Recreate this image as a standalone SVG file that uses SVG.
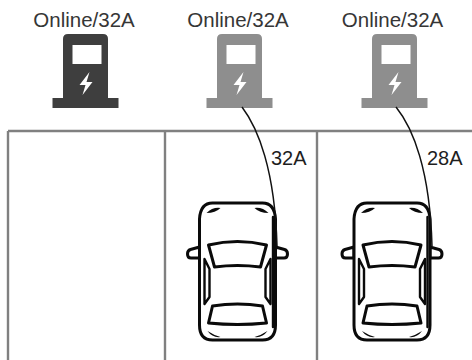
<svg xmlns="http://www.w3.org/2000/svg" xmlns:xlink="http://www.w3.org/1999/xlink" width="472" height="360" viewBox="0 0 472 360">
  <style>
    .title { font-family: "Liberation Sans", Arial, sans-serif; font-size: 20.5px; fill: #363636; text-anchor: middle; }
    .amp { font-family: "Liberation Sans", Arial, sans-serif; font-size: 20px; fill: #1e1e1e; }
    .bay { stroke: #808080; stroke-width: 2.4; fill: none; }
    .cable { stroke: #111; stroke-width: 1.5; fill: none; }
    .car-line { stroke: #0a0a0a; stroke-width: 3; fill: #fff; stroke-linejoin: round; stroke-linecap: round; }
    .car-thin { stroke: #0a0a0a; stroke-width: 2.4; fill: none; stroke-linecap: round; stroke-linejoin: round; }
    .online { fill: #3e3e3e; }
    .idle { fill: #8e8e8e; }
  </style>
  <defs>
    <!-- charging post, centred on x=0, top at y=0 -->
    <g id="charger">
      <path d="M -22.5,64 L -22.5,5 Q -22.5,0 -17.5,0 L 17.5,0 Q 22.5,0 22.5,5 L 22.5,64 Z"/>
      <rect x="-33" y="64" width="66" height="10"/>
      <rect x="-13" y="11" width="29" height="19" fill="#fff"/>
      <path d="M 4,38 L -6,51 L 0,51 L -3,61 L 7,48 L 1,48 Z" fill="#fff"/>
    </g>
    <!-- car seen from above, nose up, centred on x=0, top at y=0 -->
    <g id="car">
      <path class="car-line" d="M -38,44 L -47,46.5 Q -50,47.5 -50,51 Q -50,55 -46.5,55 L -38,55 Z"/>
      <path class="car-line" d="M 38,44 L 47,46.5 Q 50,47.5 50,51 Q 50,55 46.5,55 L 38,55 Z"/>
      <path class="car-line" d="M -25,0 L 25,0 Q 37,0 38,16 L 38,122 Q 38,137 25,137 L -25,137 Q -38,137 -38,122 L -38,16 Q -37,0 -25,0 Z"/>
      <path class="car-thin" d="M 35.5,14 L 35.5,124" stroke-width="1.8"/>
      <path class="car-line" d="M -29,42 Q 0,35 29,42 L 23,64 Q 0,61 -23,64 Z"/>
      <path class="car-line" d="M -25,103 Q 0,99 25,103 L 29,120 Q 0,123 -29,120 Z"/>
      <path class="car-thin" d="M -33,56 L -28,66 L -28,94 L -33,101 Z"/>
      <path class="car-thin" d="M 33,56 L 28,66 L 28,94 L 33,101 Z"/>
      <path d="M -31,10 Q -25,4 -17,5 Q -22,10 -31,10 Z" fill="#0a0a0a"/>
      <path d="M 31,10 Q 25,4 17,5 Q 22,10 31,10 Z" fill="#0a0a0a"/>
      <path d="M -30,128 Q -24,132 -17,134 Q -25,135 -30,128 Z" fill="#0a0a0a"/>
      <path d="M 30,128 Q 24,132 17,134 Q 25,135 30,128 Z" fill="#0a0a0a"/>
    </g>
  </defs>

  <rect width="472" height="360" fill="#fff"/>

  <!-- parking bays -->
  <g id="bays">
    <path class="bay" d="M 8,131 L 472,131 M 8,131 L 8,360 M 165,131 L 165,360 M 317,131 L 317,360"/>
  </g>

  <!-- charging posts -->
  <g id="charger-1">
    <text class="title" x="84" y="27">Online/32A</text>
    <use xlink:href="#charger" class="online" transform="translate(85.5,34)"/>
  </g>
  <g id="charger-2">
    <text class="title" x="238" y="27">Online/32A</text>
    <use xlink:href="#charger" class="idle" transform="translate(239.5,34)"/>
  </g>
  <g id="charger-3">
    <text class="title" x="392.5" y="27">Online/32A</text>
    <use xlink:href="#charger" class="idle" transform="translate(394.5,34)"/>
  </g>

  <!-- cars -->
  <g id="car-1">
    <use xlink:href="#car" transform="translate(237.5,203)"/>
  </g>
  <g id="car-2">
    <use xlink:href="#car" transform="translate(392,203)"/>
  </g>

  <!-- charging cables -->
  <g id="connectors">
    <path class="cable" d="M 242,107 C 258,128 275,170 277,246"/>
    <text class="amp" x="271" y="165">32A</text>
    <path class="cable" d="M 396,107 C 413,128 430,170 432,246"/>
    <text class="amp" x="427" y="165">28A</text>
  </g>
</svg>
